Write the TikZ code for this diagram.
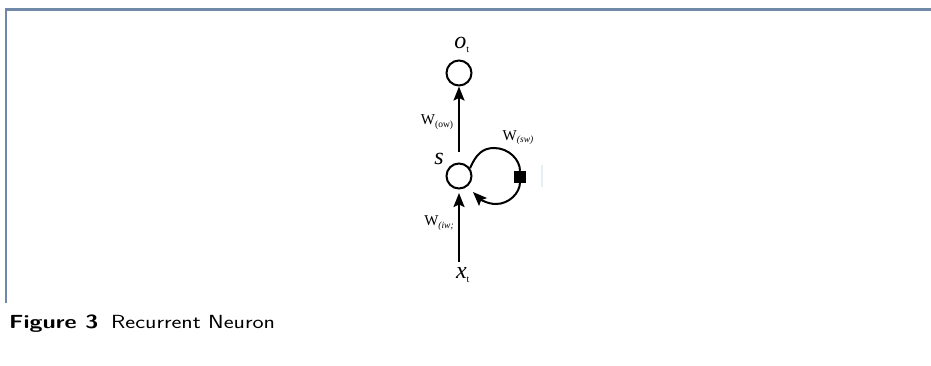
\documentclass[tikz,border=0pt]{standalone}
\usepackage{graphicx}
\usepackage{fontspec}
\setmainfont{Liberation Serif}
\newfontfamily\capfont{Latin Modern Sans}
\usetikzlibrary{arrows.meta}
\definecolor{framecol}{RGB}{112,137,168}
\definecolor{ghost}{RGB}{228,240,246}
\tikzset{
  neuron/.style={circle,draw,line width=2pt,minimum size=25pt,inner sep=0pt},
  conn/.style={line width=2pt,-{Stealth[length=14pt,width=11pt,inset=2.5pt]}},
  wlab/.style={font=\fontsize{15}{15}\selectfont,inner sep=0pt},
  vlab/.style={font=\fontsize{24}{24}\selectfont\itshape,inner sep=0pt},
  sqbox/.style={draw,fill=black,minimum size=11pt,inner sep=0pt}
}
\newcommand{\subsc}[1]{\textsubscript{\upshape\fontsize{10}{10}\selectfont #1}}
\begin{document}
\begin{tikzpicture}[x=1pt,y=1pt]
\useasboundingbox (0,0) rectangle (931,365);
% frame
\draw[framecol,line width=2.2pt] (6,62) -- (6,355.5) -- (931,355.5);
% nodes
\node[neuron] (o) at (459,292) {};
\node[neuron] (s) at (459,189) {};
\node[vlab] (ol) at (462,320) {o\subsc{t}};
\node[vlab] (sl) at (439,206) {s};
\node[vlab] (xl) at (463,90) {x\subsc{t}};
\coordinate (xs) at (459,103);
\coordinate (xe) at (459,172);
\coordinate (ss) at (459,213);
\coordinate (le) at (473,173);
\node[sqbox] (sq) at (520,188.5) {};
% arrows
\draw[conn] (ss) -- (o.south);
\draw[conn] (xs) -- (xe);
\draw[line width=2pt] (s.35) .. controls (476,211) and (483,217) .. (494,217)
      .. controls (509,217) and (520,205) .. (sq.north);
\draw[conn] (sq.south) .. controls (520,172) and (509,161) .. (496,161)
      .. controls (487,161) and (480,166) .. (le);
% labels
\node[wlab] (wo) at (437,243) {W\raisebox{-2.5pt}{\fontsize{9.5}{9.5}\selectfont(ow)}};
\node[wlab] (ws) at (518,227.5) {W\raisebox{-2.5pt}{\fontsize{9.5}{9.5}\selectfont\itshape(sw)}};
\node[wlab] (wi) at (439,142) {W\raisebox{-2.5pt}{\fontsize{9.5}{9.5}\selectfont\itshape(iw;}};
\draw[ghost,line width=1.5pt] (542,178) -- (542,200);
% caption
\node[anchor=base west,inner sep=0pt] (cap) at (9,37)
  {\scalebox{1.24}[1]{\capfont\fontsize{19}{19}\selectfont\textbf{Figure 3}\hspace{0.55em}Recurrent Neuron}};
\end{tikzpicture}
\end{document}
